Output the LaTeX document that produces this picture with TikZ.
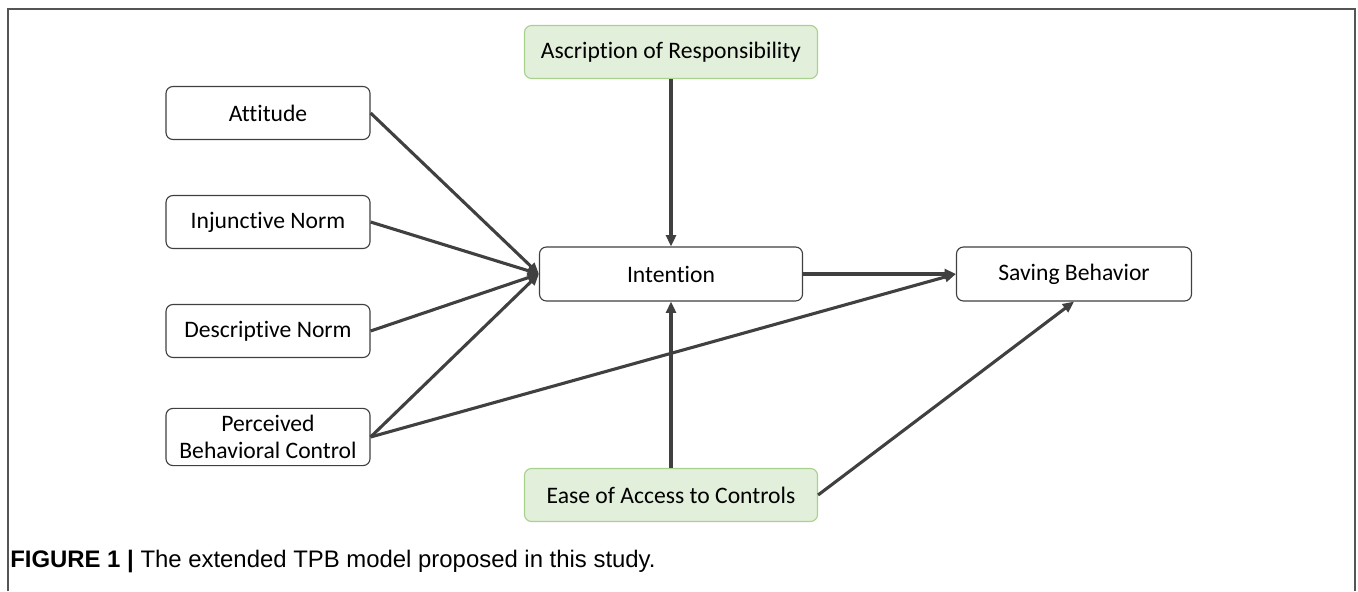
\documentclass[tikz,border=0pt]{standalone}
\usepackage{fontspec}
\setmainfont[Ligatures=NoCommon]{Carlito}
\newfontfamily\capfont{Liberation Sans}
\usetikzlibrary{arrows.meta, positioning}
\definecolor{tpbLine}{HTML}{404040}
\definecolor{tpbGreen}{HTML}{E2EFDA}
\definecolor{tpbGreenDraw}{HTML}{A9D18E}
\definecolor{tpbFrame}{HTML}{555555}

\begin{document}
\begin{tikzpicture}[
  x=0.025cm, y=-0.025cm,
  box/.style={draw=tpbLine, line width=0.8pt, rounded corners=5pt, fill=white,
              minimum height=1.325cm, align=center,
              font=\fontsize{16.8}{19}\selectfont, inner sep=2pt},
  greenbox/.style={box, draw=tpbGreenDraw, fill=tpbGreen, minimum width=7.325cm},
  leftbox/.style={box, minimum width=5.1cm},
  link/.style={draw=tpbLine, line width=2.2pt,
               -{Triangle[length=8pt, width=7pt]}},
]
  \useasboundingbox (0,0) rectangle (1358,591);
  % frame
  \draw[tpbFrame, line width=1pt] (8,591) -- (8,9) -- (1355,9) -- (1355,591);

  % determinants
  \node[leftbox] (att) at (268,113) {Attitude};
  \node[leftbox] (inj) at (268,222) {Injunctive Norm};
  \node[leftbox] (des) at (268,331) {Descriptive Norm};
  \node[leftbox, minimum height=1.43cm] (pbc) at (268,437) {Perceived\\Behavioral Control};

  % extensions
  \node[greenbox] (asc) at (671,52) {Ascription of Responsibility};
  \node[greenbox] (ease) at (671,495) {Ease of Access to Controls};

  % intention and behaviour
  \node[box, minimum width=6.575cm, minimum height=1.35cm] (int) at (671,274) {Intention};
  \node[box, minimum width=5.875cm, minimum height=1.35cm] (sav) at (1074,274) {Saving Behavior};

  % paths
  \draw[link] (att.east) -- (int.west);
  \draw[link] (inj.east) -- (int.west);
  \draw[link] (des.east) -- (int.west);
  \draw[link] (pbc.east) -- (int.west);
  \draw[link] (pbc.east) -- (sav.west);
  \draw[link] (asc.south) -- (int.north);
  \draw[link] (ease.north) -- (int.south);
  \draw[link] (int.east) -- (sav.west);
  \draw[link] (ease.east) -- (sav.south);

  % caption
  \node[anchor=west, font=\capfont\fontsize{17}{20}\selectfont, inner sep=0pt] (cap) at (10,561)
    {\textbf{FIGURE 1 |} The extended TPB model proposed in this study.};
\end{tikzpicture}
\end{document}
